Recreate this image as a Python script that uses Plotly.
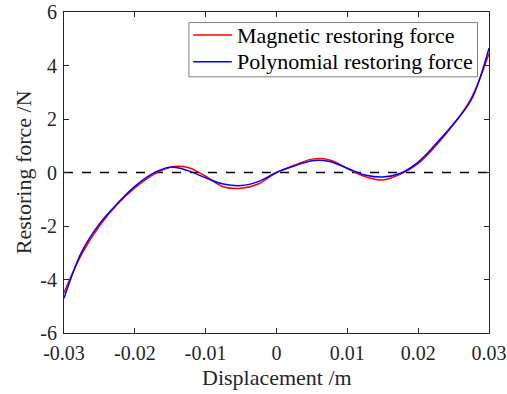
import plotly.graph_objects as go

# Displacement samples (m)
displacement = [-0.0300, -0.0275, -0.0250, -0.0225, -0.0200, -0.0175, -0.0150,
                -0.0125, -0.0100, -0.0075, -0.0050, -0.0025, 0.0000,
                0.0025, 0.0050, 0.0075, 0.0100, 0.0125, 0.0150,
                0.0175, 0.0200, 0.0225, 0.0250, 0.0275, 0.0300]

# Restoring force (N)
magnetic_force = [-4.50, -3.05, -2.00, -1.20, -0.58, -0.10, 0.20,
                  0.19, -0.14, -0.53, -0.59, -0.42, 0.00,
                  0.27, 0.50, 0.47, 0.15, -0.15, -0.28,
                  -0.06, 0.33, 1.00, 1.80, 2.78, 4.45]
polynomial_force = [-4.70, -2.97, -1.92, -1.17, -0.52, -0.04, 0.20,
                    0.07, -0.20, -0.43, -0.49, -0.33, 0.00,
                    0.24, 0.44, 0.41, 0.16, -0.09, -0.17,
                    -0.03, 0.39, 1.07, 1.82, 2.72, 4.65]

series_names = ["Magnetic restoring force", "Polynomial restoring force"]
series_colors = ["#ff0000", "#0000ff"]

x_ticks = [-0.03, -0.02, -0.01, 0, 0.01, 0.02, 0.03]
x_tick_text = ["-0.03", "-0.02", "-0.01", "0", "0.01", "0.02", "0.03"]
y_ticks = [-6, -4, -2, 0, 2, 4, 6]
y_tick_text = ["-6", "-4", "-2", "0", "2", "4", "6"]

FONT = "Liberation Serif"
AXIS_COLOR = "#262626"

fig = go.Figure()

# zero reference line
fig.add_trace(go.Scatter(
    x=[x_ticks[0], x_ticks[-1]], y=[0, 0], mode="lines",
    line=dict(color="black", width=1.5, dash="dash"),
    showlegend=False, hoverinfo="skip"))

for name, values, color in zip(series_names, [magnetic_force, polynomial_force], series_colors):
    fig.add_trace(go.Scatter(
        x=displacement, y=values, mode="lines", name=name, showlegend=False,
        line=dict(color=color, width=1.5, shape="spline", smoothing=1.0)))

axis_common = dict(
    showgrid=False, zeroline=False, showline=True, mirror="ticks",
    linecolor=AXIS_COLOR, linewidth=1, ticks="inside", ticklen=5,
    tickcolor=AXIS_COLOR, tickwidth=1, automargin=False,
    tickfont=dict(family=FONT, size=20, color=AXIS_COLOR),
)

# boxed legend in the upper right corner of the axes (paper coordinates)
box_x0, box_x1, box_y0, box_y1 = 0.294, 0.973, 0.798, 0.967
sample_x0, sample_x1, text_x = 0.304, 0.395, 0.402
entry_y = [0.928, 0.845]

shapes = [dict(type="rect", xref="paper", yref="paper",
               x0=box_x0, x1=box_x1, y0=box_y0, y1=box_y1,
               line=dict(color="#7f7f7f", width=1), fillcolor="white", layer="above")]
annotations = []
for name, color, y in zip(series_names, series_colors, entry_y):
    shapes.append(dict(type="line", xref="paper", yref="paper",
                       x0=sample_x0, x1=sample_x1, y0=y, y1=y,
                       line=dict(color=color, width=1.5), layer="above"))
    annotations.append(dict(xref="paper", yref="paper", x=text_x, y=y,
                            xanchor="left", yanchor="middle", showarrow=False,
                            text=name, font=dict(family=FONT, size=22, color="black")))

# axis titles
annotations.append(dict(xref="paper", yref="paper", x=0.5, y=-0.138,
                        xanchor="center", yanchor="middle", showarrow=False,
                        text="Displacement /m",
                        font=dict(family=FONT, size=22, color=AXIS_COLOR)))
annotations.append(dict(xref="paper", yref="paper", x=-0.095, y=0.5,
                        xanchor="center", yanchor="middle", showarrow=False,
                        textangle=-90, text="Restoring force /N",
                        font=dict(family=FONT, size=22, color=AXIS_COLOR)))

fig.update_layout(
    width=507, height=394,
    margin=dict(l=64, r=18, t=12, b=61),
    paper_bgcolor="white", plot_bgcolor="white",
    font=dict(family=FONT, size=20, color="black"),
    showlegend=False,
    xaxis=dict(range=[-0.03, 0.03], tickvals=x_ticks, ticktext=x_tick_text,
               ticklabelstandoff=2, **axis_common),
    yaxis=dict(range=[-6, 6], tickvals=y_ticks, ticktext=y_tick_text,
               ticklabelstandoff=2, **axis_common),
    shapes=shapes,
    annotations=annotations,
)

fig.write_html("out.html")
